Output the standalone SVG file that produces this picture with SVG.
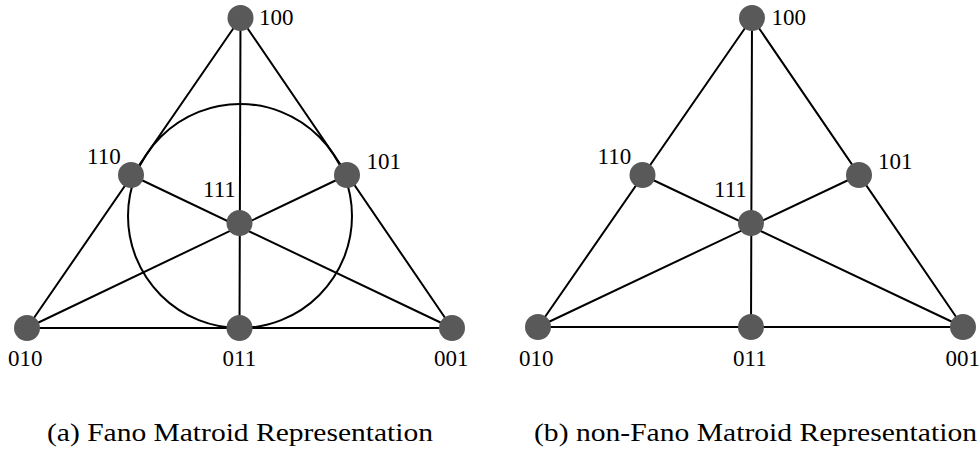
<svg xmlns="http://www.w3.org/2000/svg" width="980" height="455" viewBox="0 0 980 455">
  <style>
    .edge { stroke: #000; stroke-width: 2; fill: none; stroke-linecap: round; }
    .node { fill: #595959; }
    .lbl { font-family: "Liberation Serif", "Times New Roman", serif; font-size: 23px; fill: #000; }
    .cap { font-family: "Liberation Serif", "Times New Roman", serif; font-size: 25px; fill: #000; }
  </style>
  <rect width="980" height="455" fill="#fff"/>
  <g id="connectors">
    <line class="edge" x1="240.5" y1="18" x2="27" y2="328"/>
    <line class="edge" x1="240.5" y1="18" x2="452" y2="328"/>
    <line class="edge" x1="27" y1="328" x2="452" y2="328"/>
    <line class="edge" x1="240.5" y1="18" x2="239.5" y2="328"/>
    <line class="edge" x1="131" y1="175" x2="452" y2="328"/>
    <line class="edge" x1="347" y1="175" x2="27" y2="328"/>
    <circle class="edge" cx="240" cy="216" r="112"/>
    <line class="edge" x1="752" y1="18" x2="538" y2="327"/>
    <line class="edge" x1="752" y1="18" x2="963" y2="327"/>
    <line class="edge" x1="538" y1="327" x2="963" y2="327"/>
    <line class="edge" x1="752" y1="18" x2="751" y2="327"/>
    <line class="edge" x1="642.5" y1="175" x2="963" y2="327"/>
    <line class="edge" x1="859" y1="175" x2="538" y2="327"/>
  </g>
  <g id="a-100"><circle class="node" cx="240.5" cy="18" r="13"/><text class="lbl" x="259" y="25">100</text></g>
  <g id="a-110"><circle class="node" cx="131" cy="175" r="13"/><text class="lbl" x="87" y="164">110</text></g>
  <g id="a-101"><circle class="node" cx="347" cy="175" r="13"/><text class="lbl" x="366.5" y="169">101</text></g>
  <g id="a-111"><circle class="node" cx="239.5" cy="223" r="13"/><text class="lbl" x="203" y="197">111</text></g>
  <g id="a-010"><circle class="node" cx="27" cy="328" r="13"/><text class="lbl" x="8" y="366">010</text></g>
  <g id="a-011"><circle class="node" cx="239.5" cy="328" r="13"/><text class="lbl" x="222.5" y="366">011</text></g>
  <g id="a-001"><circle class="node" cx="452" cy="328" r="13"/><text class="lbl" x="434" y="366">001</text></g>

  <g id="b-100"><circle class="node" cx="752" cy="18" r="13"/><text class="lbl" x="771.5" y="25">100</text></g>
  <g id="b-110"><circle class="node" cx="642.5" cy="175" r="13"/><text class="lbl" x="597.5" y="164">110</text></g>
  <g id="b-101"><circle class="node" cx="859" cy="175" r="13"/><text class="lbl" x="878" y="169">101</text></g>
  <g id="b-111"><circle class="node" cx="751" cy="223" r="13"/><text class="lbl" x="714" y="197">111</text></g>
  <g id="b-010"><circle class="node" cx="538" cy="327" r="13"/><text class="lbl" x="519" y="366">010</text></g>
  <g id="b-011"><circle class="node" cx="751" cy="327" r="13"/><text class="lbl" x="733" y="366">011</text></g>
  <g id="b-001"><circle class="node" cx="963" cy="327" r="13"/><text class="lbl" x="945.5" y="366">001</text></g>

  <text class="cap" x="47" y="441" textLength="386" lengthAdjust="spacingAndGlyphs">(a) Fano Matroid Representation</text>
  <text class="cap" x="534" y="441" textLength="443" lengthAdjust="spacingAndGlyphs">(b) non-Fano Matroid Representation</text>
</svg>
